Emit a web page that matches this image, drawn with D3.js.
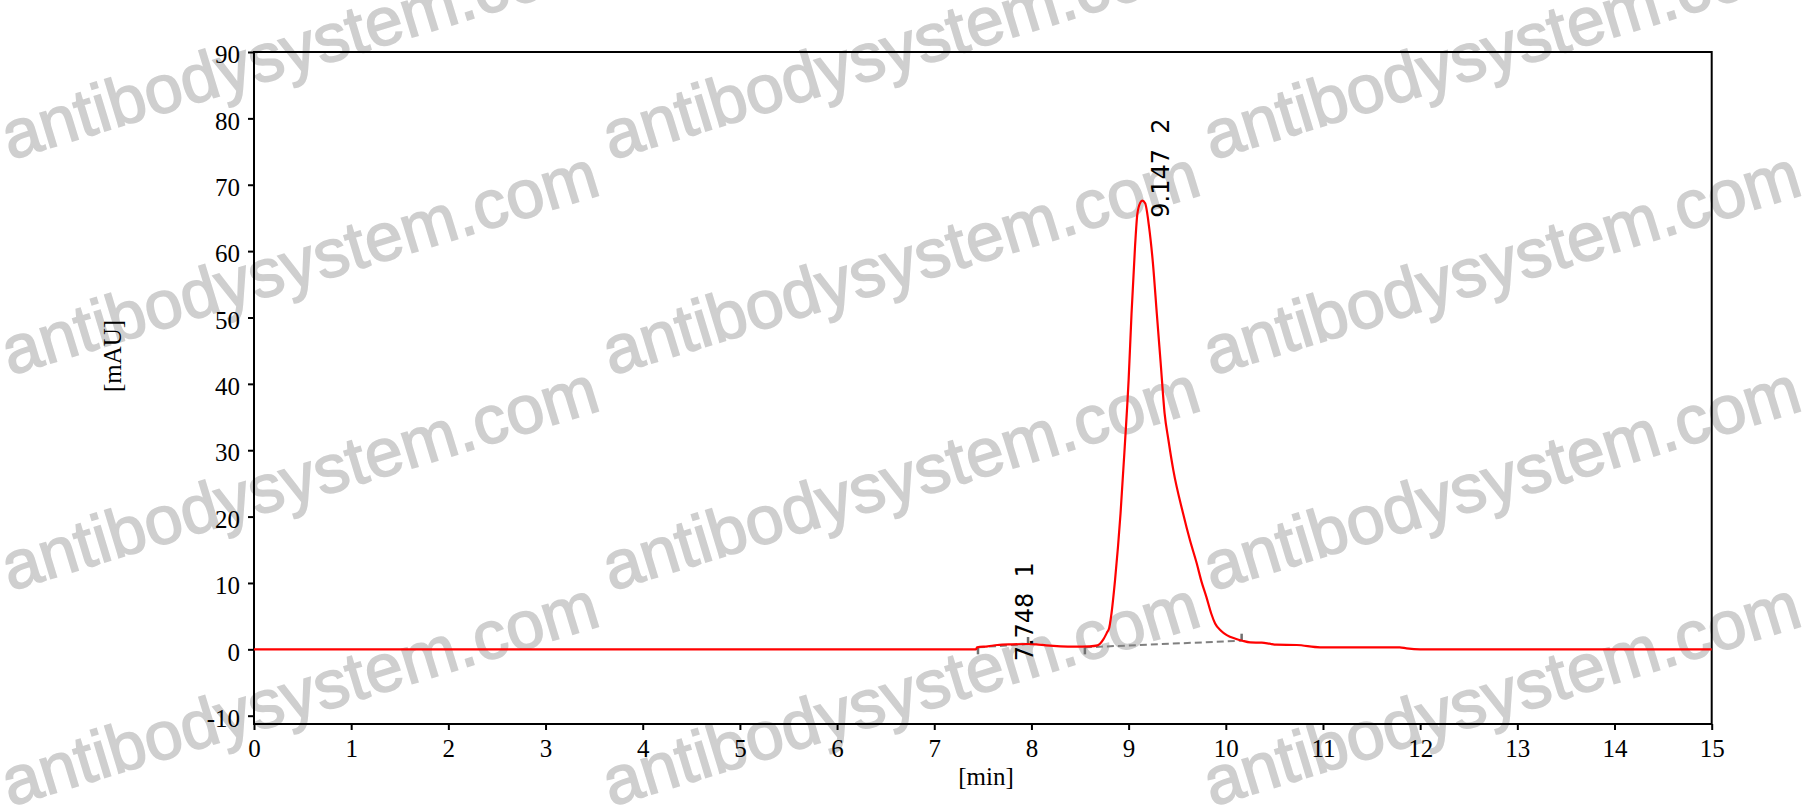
<!DOCTYPE html>
<html>
<head>
<meta charset="utf-8">
<script src="https://cdn.jsdelivr.net/npm/d3@7"></script>
<style>
  body { margin: 0; background: #fff; }
  svg { display: block; }
</style>
</head>
<body>
<svg width="1812" height="805"></svg>
<script>
// chromatogram trace
const times = [0, 7.40, 7.43, 7.44, 7.55, 7.65, 7.80, 7.95, 8.05, 8.15, 8.30, 8.45, 8.60, 8.68,
  8.74, 8.78, 8.80, 8.82, 8.86, 8.917, 8.96, 9.00, 9.03, 9.066, 9.09, 9.12, 9.14, 9.17, 9.21,
  9.25, 9.29, 9.33, 9.37, 9.41, 9.46, 9.56, 9.63, 9.70, 9.75, 9.80, 9.85, 9.89, 9.95, 10.01,
  10.10, 10.17, 10.25, 10.37, 10.45, 10.52, 10.73, 10.97, 11.79, 11.86, 12.00, 15];
const signal = [0, 0, 0, 0.3, 0.45, 0.65, 0.75, 0.8, 0.75, 0.6, 0.45, 0.4, 0.45, 0.6,
  1.5, 2.6, 3.2, 5, 10.4, 20.5, 30.5, 40.6, 50.6, 60.7, 65.6, 67.3, 67.6, 67.2, 63.7,
  58.2, 50.6, 43.1, 35.6, 31.5, 27.0, 20.5, 16.5, 13.0, 10.2, 7.9, 5.4, 3.9, 2.8, 2.15,
  1.6, 1.3, 1.05, 1.0, 0.85, 0.7, 0.65, 0.3, 0.3, 0.15, 0, 0];

// integrated peaks
const peakRt = [7.748, 9.147];
const peakNo = [1, 2];
const peakTop = [0.75, 67.6];
const baseFrom = [[7.45, 0.3], [8.55, 0.3]];
const baseTo = [[7.965, 0.8], [10.163, 1.3]];

const xTicks = d3.range(0, 16);
const yTicks = [-10, 0, 10, 20, 30, 40, 50, 60, 70, 80, 90];

const svg = d3.select("svg");

const plot = { left: 254, right: 1711.7, top: 52, bottom: 724 };

const x = d3.scaleLinear().domain([0, 15]).range([plot.left, plot.right]);
const y = d3.scaleLinear().domain([-11.25, 90]).range([plot.bottom, plot.top]);

// watermark, behind everything
const wm = svg.append("g").attr("class", "watermark");
for (let r = 0; r < 4; r++) {
  for (let c = 0; c < 3; c++) {
    wm.append("text")
      .attr("transform", `translate(${10 + 601 * c},${160 + 215.5 * r}) rotate(-17)`)
      .attr("font-family", "Liberation Sans, Arial, sans-serif")
      .attr("font-size", 68)
      .attr("fill", "#cfcfcf")
      .attr("stroke", "#cfcfcf")
      .attr("stroke-width", 1.6)
      .text("antibodysystem.com");
  }
}

// axes
const serif = "Liberation Serif, Times New Roman, serif";

const yAxis = svg.append("g")
  .attr("transform", `translate(${plot.left},0)`)
  .call(d3.axisLeft(y).tickValues(yTicks).tickFormat(d => String(d))
    .tickSize(6).tickPadding(8));

const xAxis = svg.append("g")
  .attr("transform", `translate(0,${plot.bottom})`)
  .call(d3.axisBottom(x).tickValues(xTicks).tickFormat(d => String(d))
    .tickSize(6).tickPadding(9));

[yAxis, xAxis].forEach(a => {
  a.select(".domain").remove();
  a.selectAll("line").attr("stroke", "#000").attr("stroke-width", 2);
  a.selectAll("text")
    .attr("font-family", serif)
    .attr("font-size", 25)
    .attr("fill", "#000");
});
yAxis.selectAll("text").attr("dy", "0.43em");

// frame
svg.append("rect")
  .attr("x", plot.left)
  .attr("y", plot.top)
  .attr("width", plot.right - plot.left)
  .attr("height", plot.bottom - plot.top)
  .attr("fill", "none")
  .attr("stroke", "#000")
  .attr("stroke-width", 2);

svg.append("text")
  .attr("x", 986)
  .attr("y", 785)
  .attr("text-anchor", "middle")
  .attr("font-family", serif)
  .attr("font-size", 25)
  .text("[min]");

svg.append("text")
  .attr("transform", "translate(113,356) rotate(-90)")
  .attr("text-anchor", "middle")
  .attr("dy", "0.3em")
  .attr("font-family", serif)
  .attr("font-size", 25)
  .text("[mAU]");

// peak baselines
const base = svg.append("g").attr("class", "baselines");
baseFrom.forEach((b, i) => {
  const e = baseTo[i];
  base.append("line")
    .attr("x1", x(b[0])).attr("y1", y(b[1]))
    .attr("x2", x(e[0])).attr("y2", y(e[1]))
    .attr("stroke", "#808080")
    .attr("stroke-width", 2)
    .attr("stroke-dasharray", "7,4");
  // start tick points down, end tick points up
  base.append("line")
    .attr("x1", x(b[0])).attr("y1", y(b[1]))
    .attr("x2", x(b[0])).attr("y2", y(b[1]) + 7)
    .attr("stroke", "#707070")
    .attr("stroke-width", 2.5);
  base.append("line")
    .attr("x1", x(e[0])).attr("y1", y(e[1]))
    .attr("x2", x(e[0])).attr("y2", y(e[1]) - 7)
    .attr("stroke", "#707070")
    .attr("stroke-width", 2.5);
});

// trace
const line = d3.line()
  .x(d => x(d[0]))
  .y(d => y(d[1]))
  .curve(d3.curveMonotoneX);

svg.append("path")
  .datum(times.map((t, i) => [t, signal[i]]))
  .attr("d", line)
  .attr("fill", "none")
  .attr("stroke", "#ff0000")
  .attr("stroke-width", 2.2)
  .attr("stroke-linejoin", "round");

// peak labels
peakRt.forEach((rt, i) => {
  svg.append("text")
    .attr("transform", `translate(${x(rt) + 26},${y(peakTop[i]) + 17}) rotate(-90)`)
    .attr("font-family", "DejaVu Sans, Verdana, sans-serif")
    .attr("font-size", 24)
    .attr("fill", "#000")
    .style("white-space", "pre")
    .text(`${rt.toFixed(3)}  ${peakNo[i]}`);
});
</script>
</body>
</html>
